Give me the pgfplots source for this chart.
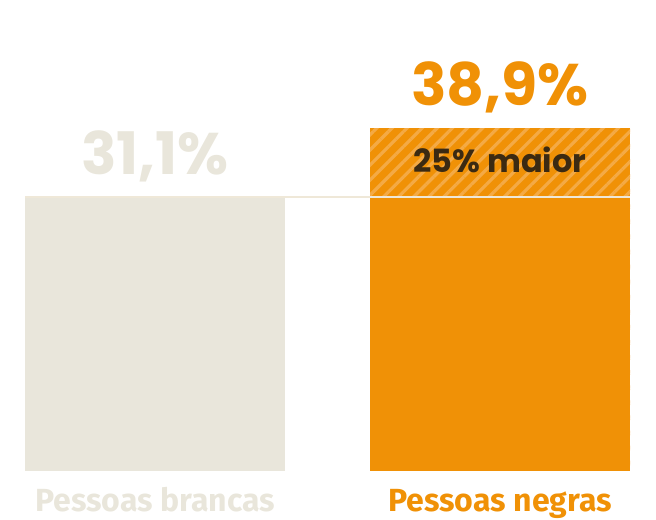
\documentclass[border=0pt]{standalone}
\usepackage{pgfplots}
\pgfplotsset{compat=1.18}
\usetikzlibrary{patterns.meta}
\usepackage{fontspec}
\newfontfamily\numfont{Poppins}[BoldFont=* Bold]
\newfontfamily\labfont{Fira Sans}[BoldFont=* Bold]
\definecolor{bege}{HTML}{E9E6DB}
\definecolor{laranja}{HTML}{F09106}
\definecolor{listra}{HTML}{F4AA45}
\definecolor{texto}{HTML}{3B2A12}
\definecolor{linha}{HTML}{EFE8D8}
\begin{document}
\begin{tikzpicture}
\useasboundingbox (-18.75pt,-36.75pt) rectangle (473.25pt,353.25pt);
\begin{axis}[
  scale only axis, width=453.75pt, height=264.3pt,
  hide axis, clip=false,
  xmin=-0.3768, xmax=1.3768, ymin=0, ymax=40,
  ybar, bar width=195pt, bar shift=0pt,
]
% Pessoas brancas
\addplot[fill=bege, draw=none] coordinates {(0,31.1)};
% Pessoas negras: the excess above 31,1 is hatched
\addplot[fill=laranja, draw=none,
  postaction={pattern={Lines[angle=45,distance=8pt,line width=2.4pt]}, pattern color=listra}]
  coordinates {(1,38.9)};
\addplot[fill=laranja, draw=none] coordinates {(1,31.1)};
% reference level of the white population
\addplot[sharp plot, draw=linha, line width=1.5pt] coordinates {(-0.3768,31.1) (1.3768,31.1)};

\node[anchor=base, text=bege, font=\numfont\bfseries\fontsize{44}{44}\selectfont] at (axis cs:0,33.6) {31,1\%};
\node[anchor=base, text=laranja, font=\numfont\bfseries\fontsize{44}{44}\selectfont] at (axis cs:1,41.5) {38,9\%};
\node[anchor=base, text=texto, font=\numfont\bfseries\fontsize{24}{24}\selectfont] at (axis cs:1,33.9) {25\% maior};
\node[anchor=base, text=bege, font=\labfont\bfseries\fontsize{24}{24}\selectfont] at (axis cs:0,-4.65) {Pessoas brancas};
\node[anchor=base, text=laranja, font=\labfont\bfseries\fontsize{24}{24}\selectfont] at (axis cs:1,-4.65) {Pessoas negras};
\end{axis}
\end{tikzpicture}
\end{document}
